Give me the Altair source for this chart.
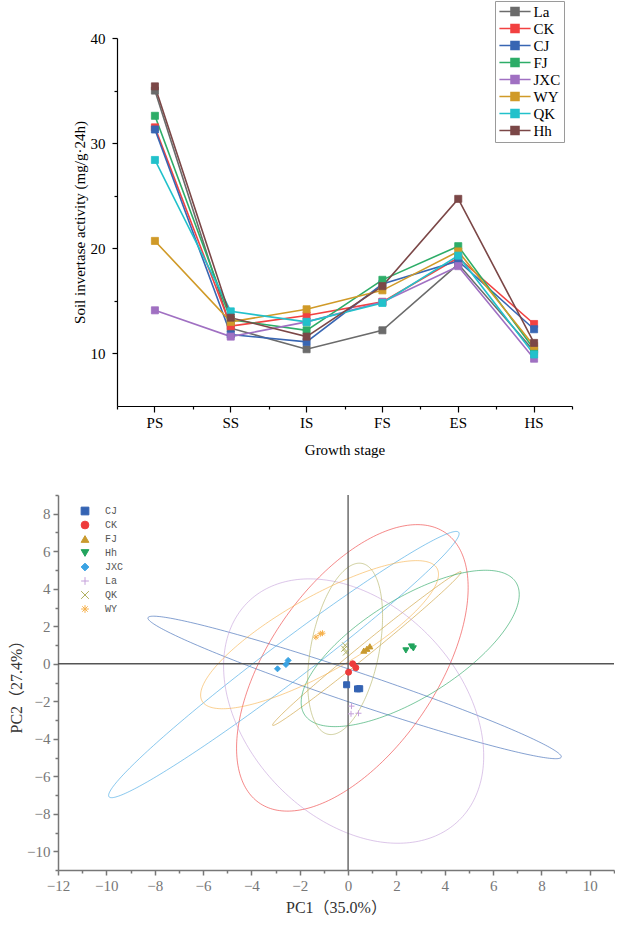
import altair as alt
import numpy as np
import pandas as pd

SERIF = "Liberation Serif, Noto Sans CJK SC"

# ---------------- upper panel: invertase activity by growth stage ----------------
stages = ["PS", "SS", "IS", "FS", "ES", "HS"]
treatments = ["La", "CK", "CJ", "FJ", "JXC", "WY", "QK", "Hh"]
treatment_colors = ["#6b6b6b", "#f24141", "#3866b3", "#2dad68",
                    "#a070c2", "#d09a28", "#22c1cb", "#7b4747"]

invertase_la = [35.0, 12.4, 10.4, 12.2, 18.5, 10.2]
invertase_ck = [31.5, 12.6, 13.6, 14.9, 19.1, 12.8]
invertase_cj = [31.3, 11.8, 11.1, 16.6, 18.8, 12.3]
invertase_fj = [32.6, 13.2, 12.2, 17.0, 20.2, 10.4]
invertase_jxc = [14.1, 11.6, 13.0, 14.9, 18.3, 9.5]
invertase_wy = [20.7, 13.0, 14.2, 16.0, 19.7, 10.7]
invertase_qk = [28.4, 14.0, 13.0, 14.8, 19.3, 9.9]
invertase_hh = [35.4, 13.4, 11.6, 16.4, 24.7, 11.0]

invertase = [invertase_la, invertase_ck, invertase_cj, invertase_fj,
             invertase_jxc, invertase_wy, invertase_qk, invertase_hh]

top_rows = []
for name, hexcol, vals in zip(treatments, treatment_colors, invertase):
    for step, (stage, v) in enumerate(zip(stages, vals)):
        top_rows.append({"treatment": name, "hex": hexcol, "stage": stage,
                         "step": step, "activity": v})
top_df = pd.DataFrame(top_rows)

stage_scale = alt.Scale(type="band", domain=stages, paddingInner=0, paddingOuter=0)
act_scale = alt.Scale(domain=[5, 40], nice=False, zero=False)

# legend glyph: a line segment through a filled square (drawn wider than its slot)
LEGEND_GLYPH = "M-2.6,0H2.6M-0.67,-0.67H0.67V0.67H-0.67Z"

top_legend = alt.Legend(
    title=None, orient="none", legendX=437, legendY=-37, direction="vertical",
    symbolType=LEGEND_GLYPH, symbolSize=144, symbolStrokeWidth=1.5, symbolOpacity=1,
    symbolOffset=9.5,
    labelFont=SERIF, labelFontSize=15, labelColor="black", labelOffset=11,
    rowPadding=1, strokeColor="#9a9a9a", padding=3, fillColor="white",
)

top_lines = alt.Chart(top_df).mark_line(strokeWidth=1.6).encode(
    x=alt.X("stage:N", scale=stage_scale, sort=stages,
            axis=alt.Axis(orient="bottom", title="Growth stage", labelAngle=0,
                          labelFont=SERIF, labelFontSize=15, labelColor="black",
                          titleFont=SERIF, titleFontSize=15, titleFontWeight="normal",
                          titleColor="black", tickSize=6, tickColor="black", tickWidth=1.2,
                          domainColor="black", domainWidth=1.2, labelPadding=3,
                          titlePadding=12, grid=False)),
    y=alt.Y("activity:Q", scale=act_scale,
            axis=alt.Axis(orient="left", title="Soil invertase activity (mg/g·24h)",
                          values=[10, 20, 30, 40], labelFont=SERIF, labelFontSize=15,
                          labelColor="black", titleFont=SERIF, titleFontSize=15,
                          titleFontWeight="normal", titleColor="black", tickSize=5,
                          tickColor="black", tickWidth=1.2, domainColor="black",
                          domainWidth=1.2, labelPadding=7, titlePadding=3, grid=False)),
    color=alt.Color("hex:N", scale=None),
    detail="treatment:N",
    order=alt.Order("step:Q"),
)

top_points = alt.Chart(top_df).mark_point(shape="square", filled=True, size=50,
                                          strokeWidth=0.8, opacity=1).encode(
    x=alt.X("stage:N", scale=stage_scale, sort=stages, axis=None),
    y=alt.Y("activity:Q", scale=act_scale, axis=None),
    fill=alt.Fill("treatment:N", scale=alt.Scale(domain=treatments, range=treatment_colors),
                  legend=top_legend),
    stroke=alt.Stroke("treatment:N", scale=alt.Scale(domain=treatments, range=treatment_colors),
                      legend=top_legend),
)

# minor ticks at stage boundaries and half-decades
top_minor = alt.Chart(top_df).mark_point(opacity=0).encode(
    x=alt.X("stage:N", scale=stage_scale, sort=stages,
            axis=alt.Axis(orient="bottom", tickBand="extent", labels=False, domain=False,
                          title="", tickSize=3, tickColor="black", tickWidth=1.2, grid=False)),
    y=alt.Y("activity:Q", scale=act_scale,
            axis=alt.Axis(orient="left", values=[15, 25, 35], labels=False, domain=False,
                          title="", tickSize=3, tickColor="black", tickWidth=1.2, grid=False)),
)

top = alt.layer(top_lines, top_points, top_minor).resolve_axis(
    x="independent", y="independent"
).properties(width=455, height=368)

# ---------------- lower panel: PCA scores with group ellipses ----------------
groups = ["CJ", "CK", "FJ", "Hh", "JXC", "La", "QK", "WY"]
group_colors = ["#3463b3", "#ee3b3b", "#c99a2e", "#22a45d",
                "#3aa3e3", "#c4a0da", "#b0b060", "#f6b04a"]
PLUS = "M-1,0H1M0,-1V1"
CROSS = "M-1,-1L1,1M-1,1L1,-1"
STAR = "M-1,0H1M0,-1V1M-0.7,-0.7L0.7,0.7M-0.7,0.7L0.7,-0.7"
group_shapes = ["square", "circle", "triangle-up", "triangle-down", "diamond", PLUS, CROSS, STAR]

pc1_cj, pc2_cj = [-0.06, 0.39, 0.48], [-1.12, -1.34, -1.33]
pc1_ck, pc2_ck = [0.19, 0.32, 0.02], [0.00, -0.21, -0.45]
pc1_fj, pc2_fj = [0.65, 0.78, 0.90], [0.70, 0.80, 0.93]
pc1_hh, pc2_hh = [2.39, 2.62, 2.70], [0.71, 0.92, 0.82]
pc1_jxc, pc2_jxc = [-2.92, -2.57, -2.48], [-0.27, -0.04, 0.18]
pc1_la, pc2_la = [0.14, 0.12, 0.43], [-2.26, -2.67, -2.64]
pc1_qk, pc2_qk = [-0.12, -0.16, -0.09], [0.98, 0.80, 0.60]
pc1_wy, pc2_wy = [-1.33, -1.15, -1.06], [1.42, 1.60, 1.63]

pc1_values = [pc1_cj, pc1_ck, pc1_fj, pc1_hh, pc1_jxc, pc1_la, pc1_qk, pc1_wy]
pc2_values = [pc2_cj, pc2_ck, pc2_fj, pc2_hh, pc2_jxc, pc2_la, pc2_qk, pc2_wy]

# confidence ellipses: half extent along PC1, half extent along PC2, correlation
ellipse_half_pc1 = [8.55, 4.79, 3.90, 4.51, 7.25, 5.38, 1.55, 4.92]
ellipse_half_pc2 = [3.80, 7.64, 4.10, 4.17, 7.10, 7.05, 4.57, 3.95]
ellipse_rho = [-0.973, 0.56, 0.995, 0.69, 0.983, -0.34, 0.38, 0.815]

pca_rows = []
ell_rows = []
theta = np.linspace(0, 2 * np.pi, 241)
for g, hexcol, xs, ys, hw, hh, rho in zip(groups, group_colors, pc1_values, pc2_values,
                                          ellipse_half_pc1, ellipse_half_pc2, ellipse_rho):
    for x, y in zip(xs, ys):
        pca_rows.append({"group": g, "pc1": x, "pc2": y})
    cx, cy = float(np.mean(xs)), float(np.mean(ys))
    for k, t in enumerate(theta):
        ell_rows.append({
            "group": g, "hex": hexcol, "k": k,
            "pc1": cx + hw * np.cos(t),
            "pc2": cy + hh * (rho * np.cos(t) + np.sqrt(1 - rho * rho) * np.sin(t)),
        })
pca_df = pd.DataFrame(pca_rows)
ell_df = pd.DataFrame(ell_rows)

pc1_scale = alt.Scale(domain=[-12, 11], nice=False, zero=False)
pc2_scale = alt.Scale(domain=[-11, 9], nice=False, zero=False)
AXIS_GREY = "#777777"

ellipses = alt.Chart(ell_df).mark_line(strokeWidth=1, strokeOpacity=0.6).encode(
    x=alt.X("pc1:Q", scale=pc1_scale, axis=None),
    y=alt.Y("pc2:Q", scale=pc2_scale, axis=None),
    color=alt.Color("hex:N", scale=None),
    detail="group:N",
    order=alt.Order("k:Q"),
)

zero_df = pd.DataFrame({"z": [0]})
zero_v = alt.Chart(zero_df).mark_rule(color="#555555", strokeWidth=1.3).encode(
    x=alt.X("z:Q", scale=pc1_scale, axis=None))
zero_h = alt.Chart(zero_df).mark_rule(color="#555555", strokeWidth=1.3).encode(
    y=alt.Y("z:Q", scale=pc2_scale, axis=None))

pca_legend = alt.Legend(
    title=None, orient="none", legendX=22, legendY=11, direction="vertical",
    symbolSize=60, symbolStrokeWidth=1, symbolOpacity=1,
    labelFont="Liberation Mono", labelFontSize=10, labelColor="#555555",
    labelOffset=15, rowPadding=2, padding=0,
)

points = alt.Chart(pca_df).mark_point(filled=True, size=36, strokeWidth=1, opacity=1).encode(
    x=alt.X("pc1:Q", scale=pc1_scale,
            axis=alt.Axis(orient="bottom", title="PC1（35.0%）", values=list(range(-12, 11, 2)),
                          labelFont=SERIF, labelFontSize=15, labelColor=AXIS_GREY,
                          labelFlush=False, labelOverlap=False, tickSize=5, tickColor=AXIS_GREY,
                          tickWidth=1.5, domainColor=AXIS_GREY, domainWidth=1.5, labelPadding=3,
                          titleFont=SERIF, titleFontSize=16, titleFontWeight="normal",
                          titleColor="#333333", titlePadding=6, grid=False)),
    y=alt.Y("pc2:Q", scale=pc2_scale,
            axis=alt.Axis(orient="left", title="PC2（27.4%）", values=list(range(-10, 9, 2)),
                          labelFont=SERIF, labelFontSize=15, labelColor=AXIS_GREY,
                          labelFlush=False, labelOverlap=False, tickSize=5, tickColor=AXIS_GREY,
                          tickWidth=1.5, domainColor=AXIS_GREY, domainWidth=1.5, labelPadding=3,
                          titleFont=SERIF, titleFontSize=16, titleFontWeight="normal",
                          titleColor="#333333", titlePadding=2, grid=False)),
    shape=alt.Shape("group:N", scale=alt.Scale(domain=groups, range=group_shapes), legend=pca_legend),
    fill=alt.Fill("group:N", scale=alt.Scale(domain=groups, range=group_colors), legend=pca_legend),
    stroke=alt.Stroke("group:N", scale=alt.Scale(domain=groups, range=group_colors), legend=pca_legend),
)

pca_minor = alt.Chart(zero_df).mark_point(opacity=0).encode(
    x=alt.X("z:Q", scale=pc1_scale,
            axis=alt.Axis(orient="bottom", values=list(range(-11, 12, 2)), labels=False,
                          domain=False, title="", tickSize=3, tickColor=AXIS_GREY,
                          tickWidth=1.5, grid=False)),
    y=alt.Y("z:Q", scale=pc2_scale,
            axis=alt.Axis(orient="left", values=list(range(-11, 10, 2)), labels=False,
                          domain=False, title="", tickSize=3, tickColor=AXIS_GREY,
                          tickWidth=1.5, grid=False)),
)

bottom = alt.layer(ellipses, zero_v, zero_h, points, pca_minor).resolve_axis(
    x="independent", y="independent"
).properties(width=556, height=375)

# ---------------- page layout ----------------
spacer = alt.Chart(zero_df).mark_point(opacity=0).encode(
    x=alt.X("z:Q", axis=None), y=alt.Y("z:Q", axis=None)
).properties(width=14, height=10)

top_row = alt.hconcat(spacer, top, spacing=0)

chart = alt.vconcat(top_row, bottom, spacing=37).resolve_scale(
    fill="independent", stroke="independent", shape="independent"
).resolve_legend(
    fill="independent", stroke="independent", shape="independent"
).properties(
    padding={"left": 8, "top": 0, "right": 0, "bottom": 0}
).configure_view(stroke=None)

chart.save("out.html", embed_options={"renderer": "svg", "actions": False})
